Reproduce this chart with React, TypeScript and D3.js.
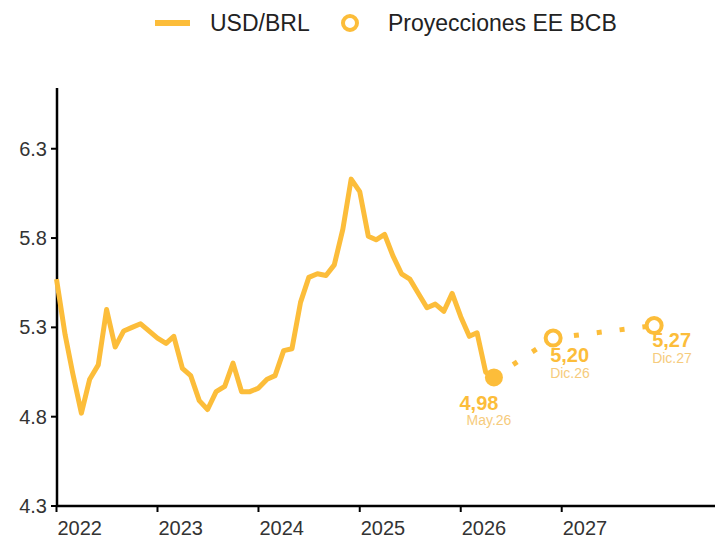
import * as React from 'react';
import * as d3 from 'd3';

// USD/BRL monthly average, Jan 2022 - May 2026
const startMonth = new Date(Date.UTC(2022, 0, 1));
const usdBrl = [
  5.53, 5.22, 5.0, 4.78, 4.97, 5.05, 5.36, 5.15, 5.24, 5.26, 5.28, 5.24,
  5.2, 5.17, 5.21, 5.03, 4.99, 4.85, 4.8, 4.9, 4.93, 5.06, 4.9, 4.9,
  4.92, 4.97, 4.99, 5.13, 5.14, 5.4, 5.54, 5.56, 5.55, 5.61, 5.81, 6.09,
  6.02, 5.77, 5.75, 5.78, 5.66, 5.56, 5.53, 5.45, 5.37, 5.39, 5.35, 5.45,
  5.32, 5.21, 5.23, 5.01, 4.98,
];

// projection points (last observed + BCB survey)
const projDates = ['2026-05', '2026-12', '2027-12'];
const projValues = [4.98, 5.2, 5.27];
const projLabels = ['May.26', 'Dic.26', 'Dic.27'];

const yearTicks = [2022, 2023, 2024, 2025, 2026, 2027];
const yTicks = [4.26, 4.76, 5.26, 5.76, 6.26];

const GOLD = '#FCBD3A';
const GOLD_LIGHT = '#F6CB7C';
const FONT = '"Liberation Sans", Arial, sans-serif';

const parseMonth = d3.utcParse('%Y-%m');
const fmtComma = (v: number) => d3.format('.2f')(v).replace('.', ',');

export default function App() {
  const width = 727;
  const height = 540;

  const x = d3
    .scaleUtc()
    .domain([startMonth, new Date(Date.UTC(2028, 6, 8))])
    .range([56.5, 715]);
  const y = d3.scaleLinear().domain([4.26, 6.6]).range([506, 88]);

  const hist = usdBrl.map((v, i) => ({ date: d3.utcMonth.offset(startMonth, i), value: v }));
  const proj = projValues.map((v, i) => ({ date: parseMonth(projDates[i]) as Date, value: v }));

  const lineGen = d3
    .line<{ date: Date; value: number }>()
    .x(d => x(d.date))
    .y(d => y(d.value));

  // label offsets per projection point: [value dx, value dy, date dx, date dy, anchor]
  const labelPos: [number, number, number, number, string][] = [
    [-15, 33, -5, 48, 'middle'],
    [-3, 24, -3, 40, 'start'],
    [-2, 21, -2, 37, 'start'],
  ];

  return (
    <svg width={width} height={height} style={{ display: 'block' }} fontFamily={FONT}>
      <style>{`body{margin:0}`}</style>
      <rect width={width} height={height} fill="#fff" />

      {/* legend */}
      <line x1={155} x2={190} y1={23} y2={23} stroke={GOLD} strokeWidth={6} />
      <text x={210} y={31} fontSize={23} fill="#222">USD/BRL</text>
      <circle cx={350} cy={23} r={7} fill="#fff" stroke={GOLD} strokeWidth={4} />
      <text x={388} y={31} fontSize={23} fill="#222">Proyecciones EE BCB</text>

      {/* axes */}
      <line x1={57} x2={57} y1={88} y2={506} stroke="#000" strokeWidth={2.5} />
      <line x1={56} x2={715} y1={506} y2={506} stroke="#000" strokeWidth={2.5} />
      {yTicks.map(t => (
        <g key={t}>
          <line x1={51} x2={57} y1={y(t)} y2={y(t)} stroke="#000" strokeWidth={2} />
          <text x={47} y={y(t)} dy="0.35em" textAnchor="end" fontSize={20} fill="#333">
            {d3.format('.1f')(t)}
          </text>
        </g>
      ))}
      {yearTicks.map(yr => {
        const xx = x(new Date(Date.UTC(yr, 0, 1)));
        return (
          <g key={yr}>
            <line x1={xx} x2={xx} y1={506} y2={512} stroke="#000" strokeWidth={2} />
            <text x={xx + 1} y={535} fontSize={20} fill="#333">{yr}</text>
          </g>
        );
      })}

      {/* series */}
      <path d={lineGen(hist) || ''} fill="none" stroke={GOLD} strokeWidth={5} strokeLinejoin="round" />
      <path d={lineGen(proj) || ''} fill="none" stroke={GOLD} strokeWidth={5} strokeDasharray="5 18" />
      <circle cx={x(proj[0].date)} cy={y(proj[0].value)} r={9} fill={GOLD} />
      {proj.slice(1).map((p, i) => (
        <circle key={i} cx={x(p.date)} cy={y(p.value)} r={7.5} fill="#fff" stroke={GOLD} strokeWidth={4} />
      ))}

      {/* labels */}
      {proj.map((p, i) => {
        const [vdx, vdy, ddx, ddy, anchor] = labelPos[i];
        const px = x(p.date);
        const py = y(p.value);
        return (
          <g key={i} textAnchor={anchor}>
            <text x={px + vdx} y={py + vdy} fontSize={20} fontWeight="bold" fill={GOLD}>
              {fmtComma(p.value)}
            </text>
            <text x={px + ddx} y={py + ddy} fontSize={14} fill={GOLD_LIGHT}>
              {projLabels[i]}
            </text>
          </g>
        );
      })}
    </svg>
  );
}
